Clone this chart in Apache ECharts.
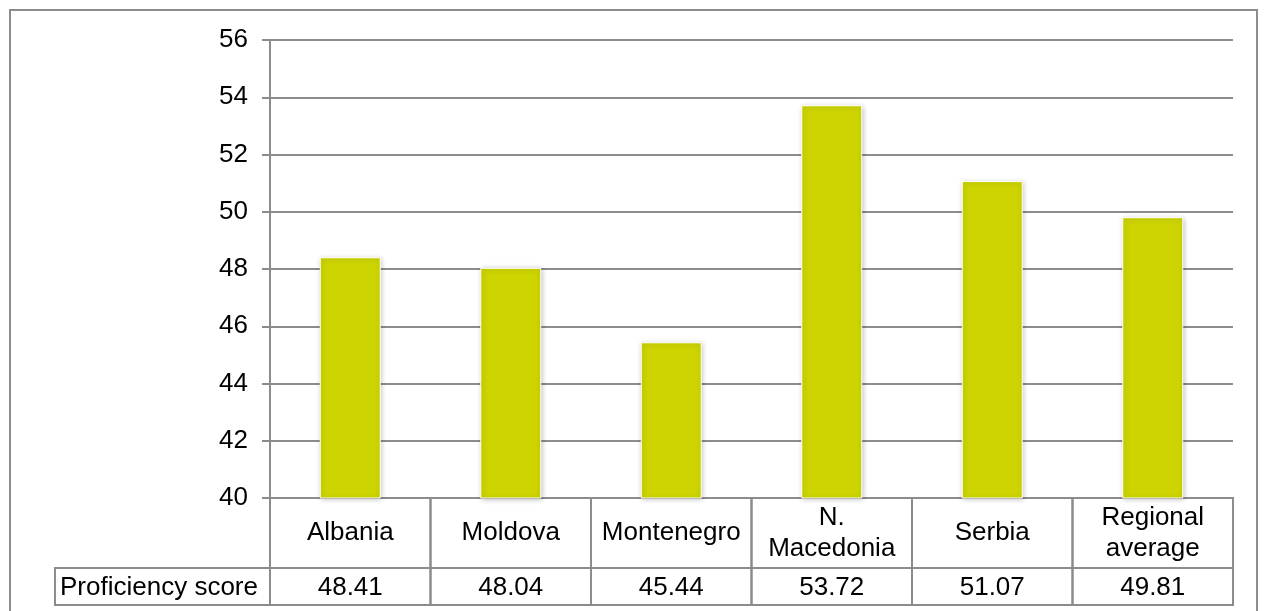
<!DOCTYPE html>
<html>
<head>
<meta charset="utf-8">
<script src="https://cdn.jsdelivr.net/npm/echarts@6/dist/echarts.min.js"></script>
<style>
  html, body { margin: 0; padding: 0; background: #fff; }
  #chart { width: 1267px; height: 611px; }
</style>
</head>
<body>
<div id="chart"></div>
<script>
var categories = ["Albania", "Moldova", "Montenegro", "N.\nMacedonia", "Serbia", "Regional\naverage"];
var scores = [48.41, 48.04, 45.44, 53.72, 51.07, 49.81];
var seriesName = "Proficiency score";
var yTicks = { min: 40, max: 56, interval: 2 };

var plotLeft = 270, plotRight = 1233, plotTop = 40, plotBottom = 498;
var row1Bottom = 568, row2Bottom = 605, labelLeft = 55;
var lineColor = "#8c8c8c";
var font = "Liberation Sans, Arial, sans-serif";
var fs = 26;

var myChart = echarts.init(document.getElementById("chart"));

// data table under the plot, built from the arrays
function tableGraphics() {
  var g = [];
  var colW = (plotRight - plotLeft) / categories.length;
  categories.forEach(function (c, i) {
    var x = plotLeft + i * colW;
    g.push({ type: "rect", shape: { x: x, y: plotBottom, width: colW, height: row1Bottom - plotBottom },
      style: { fill: "none", stroke: lineColor, lineWidth: 2 } });
    g.push({ type: "rect", shape: { x: x, y: row1Bottom, width: colW, height: row2Bottom - row1Bottom },
      style: { fill: "none", stroke: lineColor, lineWidth: 2 } });
    g.push({ type: "text", x: x + colW / 2, y: (plotBottom + row1Bottom) / 2,
      style: { text: c, fill: "#000", font: fs + "px " + font, align: "center", verticalAlign: "middle", lineHeight: 31 } });
    g.push({ type: "text", x: x + colW / 2, y: (row1Bottom + row2Bottom) / 2 + 1,
      style: { text: scores[i].toFixed(2), fill: "#000", font: fs + "px " + font, align: "center", verticalAlign: "middle" } });
  });
  g.push({ type: "rect", shape: { x: labelLeft, y: row1Bottom, width: plotLeft - labelLeft, height: row2Bottom - row1Bottom },
    style: { fill: "none", stroke: lineColor, lineWidth: 2 } });
  g.push({ type: "text", x: labelLeft + 5, y: (row1Bottom + row2Bottom) / 2 + 1,
    style: { text: seriesName, fill: "#000", font: fs + "px " + font, align: "left", verticalAlign: "middle" } });
  // outer chart border
  g.push({ type: "rect", shape: { x: 10, y: 10, width: 1247, height: 700 },
    style: { fill: "none", stroke: lineColor, lineWidth: 2 } });
  return g;
}

var option = {
  animation: false,
  backgroundColor: "#fff",
  grid: { left: plotLeft, right: 1267 - plotRight, top: plotTop, bottom: 611 - plotBottom },
  xAxis: {
    type: "category",
    data: categories,
    axisLine: { show: false },
    axisTick: { show: false },
    axisLabel: { show: false }
  },
  yAxis: {
    type: "value",
    min: yTicks.min,
    max: yTicks.max,
    interval: yTicks.interval,
    axisLine: { show: true, lineStyle: { color: lineColor, width: 2 } },
    axisTick: { show: true, length: 8, lineStyle: { color: lineColor, width: 2 } },
    axisLabel: { color: "#000", fontSize: fs, fontFamily: font, margin: 22 },
    splitLine: { lineStyle: { color: lineColor, width: 2 } }
  },
  series: [
    {
      name: seriesName,
      type: "bar",
      data: scores,
      barWidth: "38%",
      itemStyle: {
        color: "#cdd400",
        borderColor: "#ffffff",
        borderWidth: 1,
        shadowBlur: 5,
        shadowColor: "rgba(0,0,0,0.25)",
        shadowOffsetX: 1,
        shadowOffsetY: 1
      }
    }
  ],
  graphic: tableGraphics()
};

myChart.setOption(option);
</script>
</body>
</html>
